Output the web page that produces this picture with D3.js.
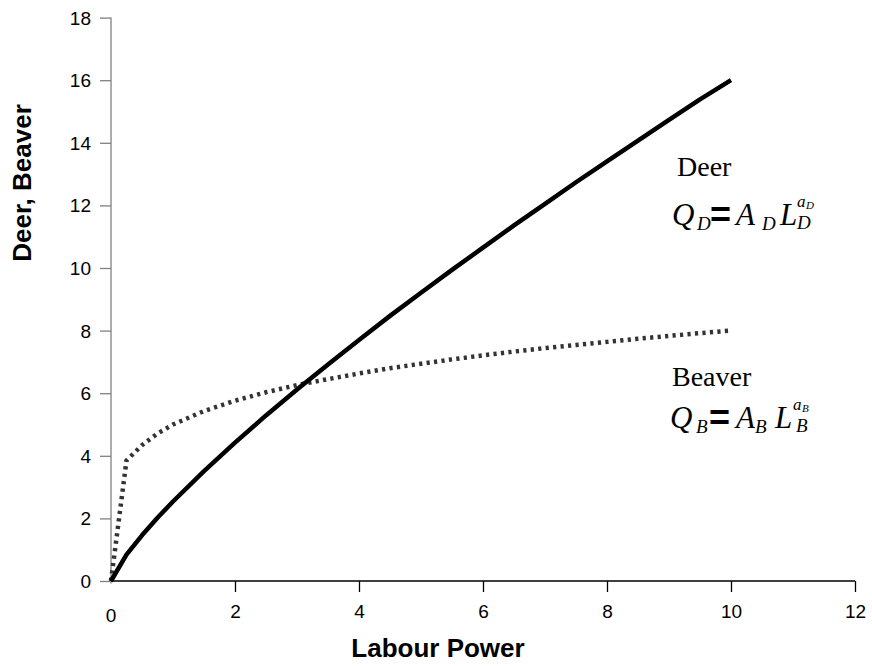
<!DOCTYPE html>
<html>
<head>
<meta charset="utf-8">
<script src="https://cdn.jsdelivr.net/npm/d3@7"></script>
<style>
  html, body { margin: 0; padding: 0; background: #fff; }
  svg { display: block; }
</style>
</head>
<body>
<svg id="chart" width="872" height="666"></svg>
<script>
// ---- data ----
const labour = [0, 0.25, 0.5, 0.75, 1, 1.5, 2, 2.5, 3, 3.5, 4, 4.5, 5, 5.5, 6, 6.5, 7, 7.5, 8, 8.5, 9, 9.5, 10];
const deer   = [0, 0.84, 1.46, 2.02, 2.54, 3.51, 4.42, 5.29, 6.12, 6.92, 7.70, 8.47, 9.21, 9.94, 10.65, 11.36, 12.05, 12.74, 13.41, 14.07, 14.73, 15.39, 16.0];
const beaver = [0, 3.85, 4.34, 4.71, 5.0, 5.43, 5.76, 6.03, 6.26, 6.45, 6.63, 6.80, 6.94, 7.08, 7.21, 7.33, 7.44, 7.54, 7.64, 7.74, 7.83, 7.92, 8.0];
const xTicks = [0, 2, 4, 6, 8, 10, 12];
const yTicks = [0, 2, 4, 6, 8, 10, 12, 14, 16, 18];
const xTitle = "Labour Power";
const yTitle = "Deer, Beaver";

const svg = d3.select("#chart");
const sans = "'Liberation Sans', Arial, sans-serif";
const serif = "'Liberation Serif', 'Times New Roman', serif";

const x = d3.scaleLinear().domain([0, 12]).range([111, 855]);
const y = d3.scaleLinear().domain([0, 18]).range([581, 17.6]);

// y axis (gray)
const yAxis = svg.append("g").attr("transform", `translate(${x(0)},0)`)
  .call(d3.axisLeft(y).tickValues(yTicks).tickSize(11).tickPadding(9).tickFormat(d3.format("d")));
yAxis.select(".domain").remove();
yAxis.selectAll(".tick line").attr("stroke", "#808080").attr("stroke-width", 1.3);
yAxis.selectAll(".tick text").attr("font-family", sans).attr("font-size", 19).attr("fill", "#000").attr("dy", "0.34em");
svg.append("line").attr("x1", x(0)).attr("x2", x(0)).attr("y1", y(18)).attr("y2", y(0) + 2.5)
  .attr("stroke", "#808080").attr("stroke-width", 1.3);

// x axis (black)
const xAxis = svg.append("g").attr("transform", `translate(0,${y(0)})`)
  .call(d3.axisBottom(x).tickValues(xTicks.filter(d => d !== 0)).tickSize(11).tickSizeOuter(0).tickPadding(13).tickFormat(d3.format("d")));
xAxis.select(".domain").attr("stroke", "#000").attr("stroke-width", 1.3).attr("d", `M${x(0)},0H${x(12)}`);
xAxis.selectAll(".tick line").attr("stroke", "#000").attr("stroke-width", 1.3);
xAxis.selectAll(".tick text").attr("font-family", sans).attr("font-size", 19).attr("fill", "#000");
svg.append("text").attr("x", x(0)).attr("y", 622).attr("text-anchor", "middle")
  .attr("font-family", sans).attr("font-size", 19).text(d3.format("d")(xTicks[0]));

// lines
const pts = (vals) => labour.map((l, i) => [l, vals[i]]);
const line = d3.line().x(d => x(d[0])).y(d => y(d[1])).curve(d3.curveLinear);

svg.append("path").datum(pts(beaver)).attr("d", line)
  .attr("fill", "none").attr("stroke", "#333").attr("stroke-width", 4.5)
  .attr("stroke-dasharray", "3.2,4.3");
svg.append("path").datum(pts(deer)).attr("d", line)
  .attr("fill", "none").attr("stroke", "#000").attr("stroke-width", 4.5).attr("stroke-linejoin", "round");

// axis titles
svg.append("text").attr("x", 438).attr("y", 657).attr("text-anchor", "middle")
  .attr("font-family", sans).attr("font-weight", "bold").attr("font-size", 26).text(xTitle);
svg.append("text").attr("transform", "translate(31,183) rotate(-90)").attr("text-anchor", "middle")
  .attr("font-family", sans).attr("font-weight", "bold").attr("font-size", 26).text(yTitle);

// annotations
function label(txt, x0, y0) {
  svg.append("text").attr("x", x0).attr("y", y0).attr("font-family", serif)
    .attr("font-size", 28).text(txt);
}
function formula(sub, x0, y0, o) {
  const t = svg.append("text").attr("font-family", serif).attr("font-style", "italic");
  const sp = (s, dx, dy, fs, extra) => {
    const e = t.append("tspan").attr("x", x0 + dx).attr("y", y0 + dy).attr("font-size", fs).text(s);
    if (extra) extra(e);
  };
  sp("Q", 0, 0, 31);
  sp(sub, o.q, 5, 19);
  sp("=", o.eq, 2, 36, e => e.attr("font-family", sans).attr("font-weight", "bold").attr("font-style", "normal"));
  sp("A", o.a, 0, 31);
  sp(sub, o.as, 5, 19);
  sp("L", o.l, 0, 31);
  sp(sub, o.ls, 4, 19);
  sp("a", o.sa, o.sy, 17);
  sp(sub, o.sa + 9, o.sy + 2, 11);
}
label("Deer", 677, 176);
formula("D", 672, 225, {q: 25, eq: 38, a: 64, as: 90, l: 108, ls: 125, sa: 125, sy: -18});
label("Beaver", 672, 386);
formula("B", 670, 428, {q: 26, eq: 39, a: 66, as: 85, l: 105, ls: 126, sa: 123, sy: -18});
</script>
</body>
</html>
